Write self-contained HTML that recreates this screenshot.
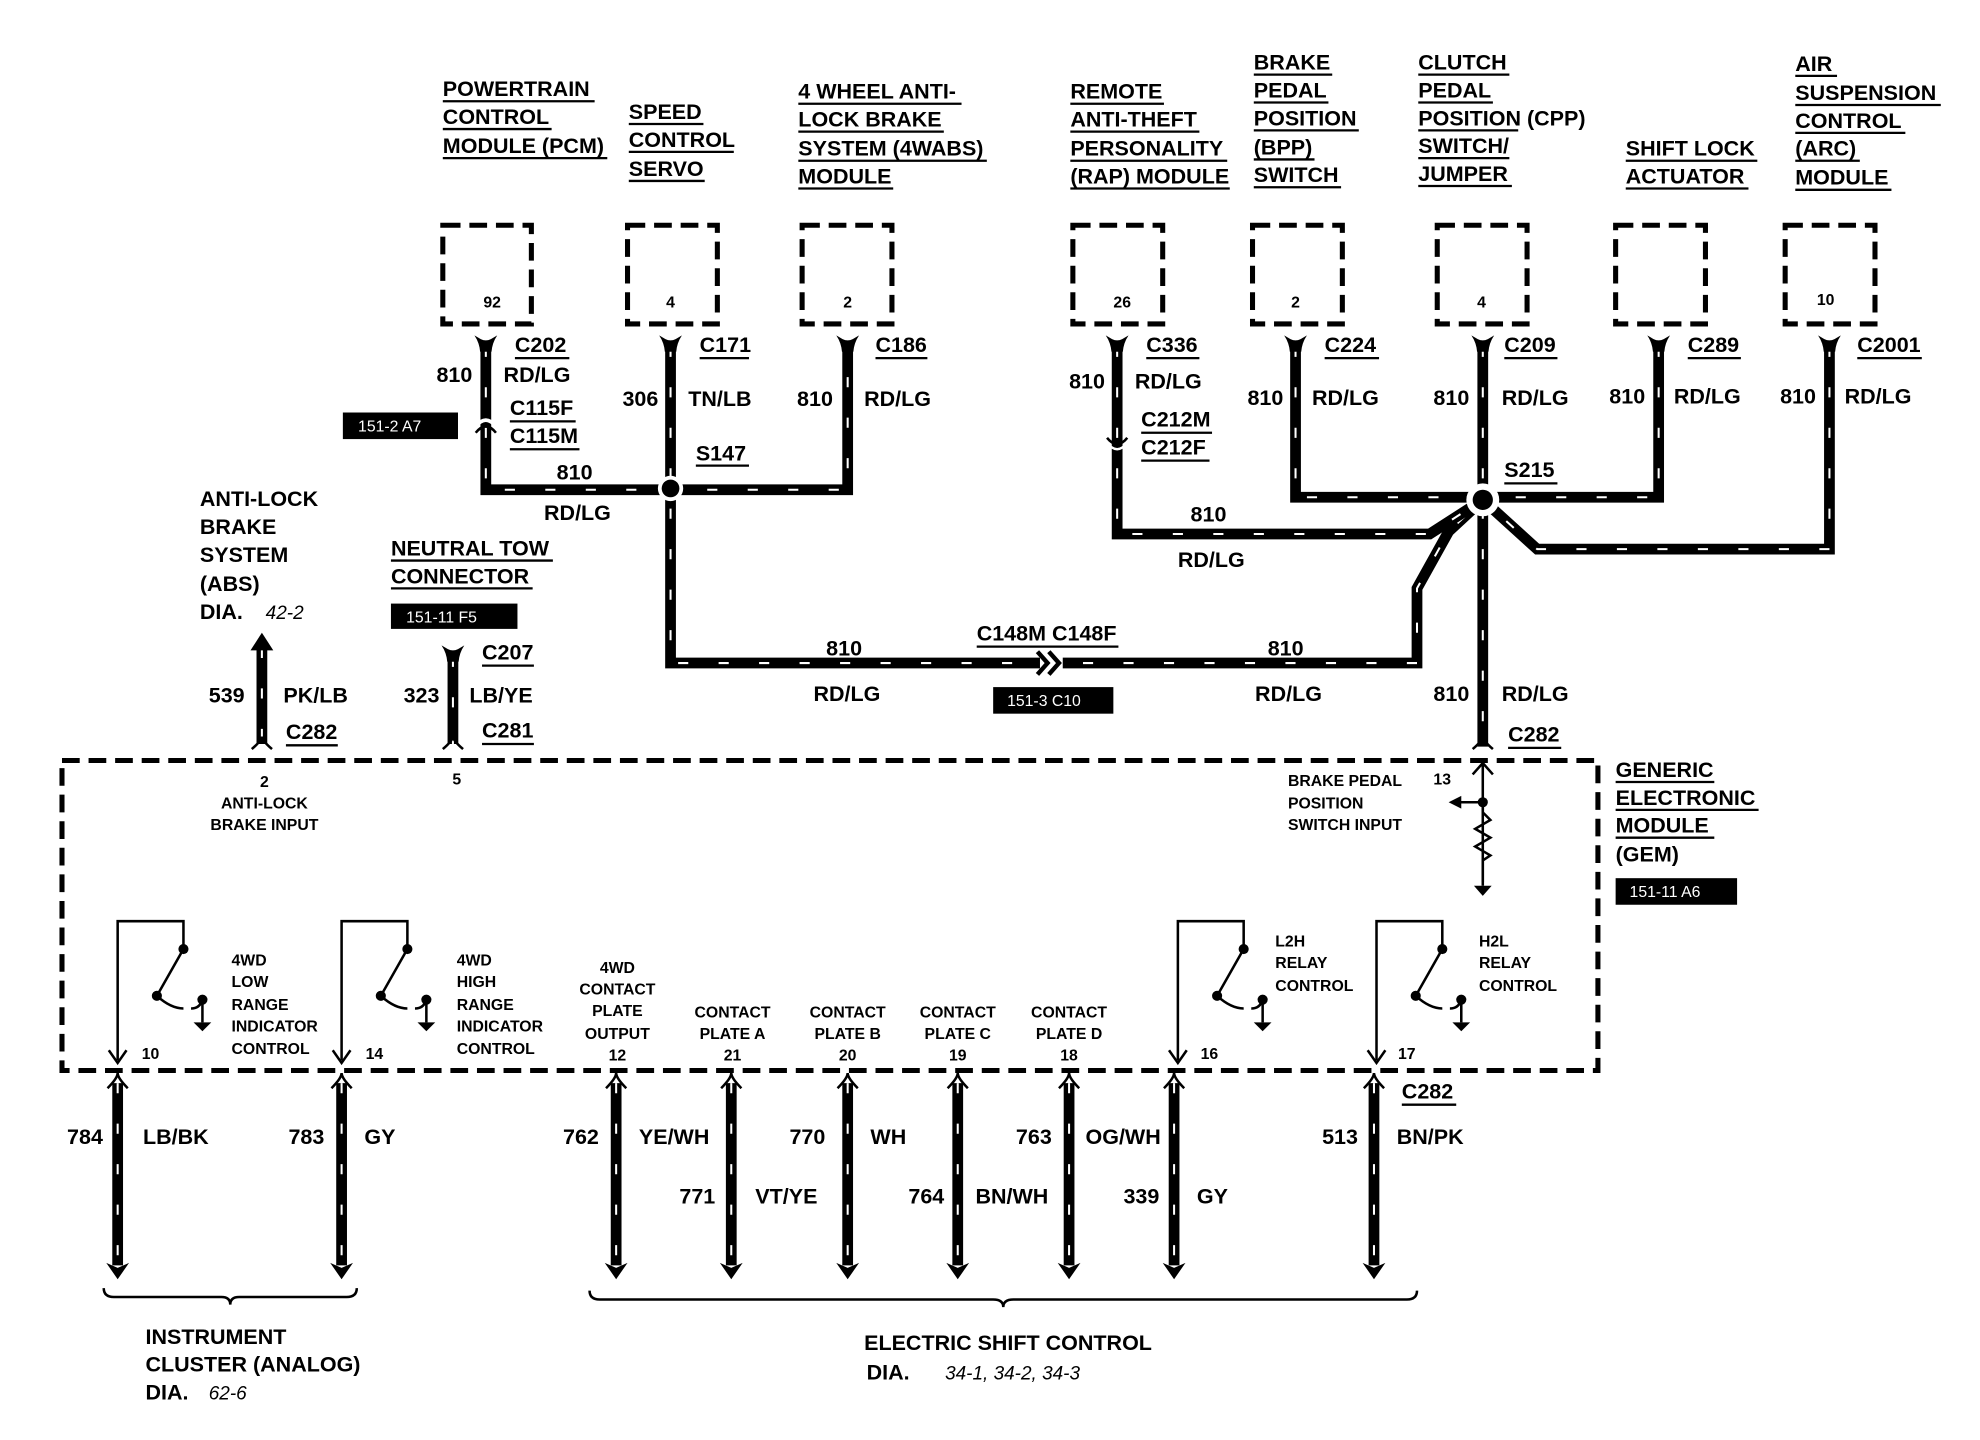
<!DOCTYPE html>
<html><head><meta charset="utf-8"><style>
html,body{margin:0;padding:0;background:#fff}
svg{display:block}
text{font-family:"Liberation Sans",sans-serif;font-weight:bold;fill:#000}
.h{font-size:17px}
.s{font-size:12.5px;font-weight:normal}
.n{font-size:17px}
.w{fill:none;stroke:#000;stroke-width:8.5;stroke-linejoin:miter}
.d{fill:none;stroke:#fff;stroke-width:1.6;stroke-dasharray:8 24}
.box{fill:none;stroke:#000;stroke-width:4;stroke-dasharray:14 7}
.u{stroke:#000;stroke-width:1.8}
.t{stroke:#000;stroke-width:2;fill:none}
</style></head><body>
<svg width="1980" height="1440" viewBox="0 0 1565 1138" preserveAspectRatio="none" xmlns="http://www.w3.org/2000/svg">
<defs>
<path id="w1" d="M384,274 V387 H670 V274"/>
<path id="w2" d="M530,274 V524 H1120 V465 L1145,420 L1172,395"/>
<path id="w3" d="M883,274 V422 H1130 L1172,395"/>
<path id="w4" d="M1024,274 V393 H1172"/>
<path id="w5" d="M1172,274 V590"/>
<path id="w6" d="M1311,274 V393 H1172"/>
<path id="w7" d="M1446,274 V434 H1215 L1172,395"/>
<path id="w8" d="M207,512 V588"/>
<path id="w9" d="M358,519 V588"/>
<g id="sw">
<path class="t" d="M93,838 V728 H145 V750 L124,787"/>
<path d="M86,830 L93,840 L100,830" class="t"/>
<circle cx="145" cy="750" r="4"/><circle cx="124" cy="787" r="4"/><circle cx="160" cy="790" r="4"/>
<path class="t" d="M124,787 Q135,797 145,797 M151,797 Q158,797 160,790 V808"/>
<path d="M153,808 H167 L160,815 Z"/>
</g>
<g id="fork"><path d="M-9,-5 Q-5,1 -4.5,8 H4.5 Q5,1 9,-5 L4,-2 Q0,0 -4,-2 Z"/></g>
<g id="ar"><path d="M-9,-10 L0,3 L9,-10 L0,-6 Z"/></g>
</defs>

<g class="h">
<text x="350" y="76">POWERTRAIN</text><text x="350" y="98">CONTROL</text><text x="350" y="121">MODULE (PCM)</text>
<text x="497" y="94">SPEED</text><text x="497" y="116">CONTROL</text><text x="497" y="139">SERVO</text>
<text x="631" y="78">4 WHEEL ANTI-</text><text x="631" y="100">LOCK BRAKE</text><text x="631" y="123">SYSTEM (4WABS)</text><text x="631" y="145">MODULE</text>
<text x="846" y="78">REMOTE</text><text x="846" y="100">ANTI-THEFT</text><text x="846" y="123">PERSONALITY</text><text x="846" y="145">(RAP) MODULE</text>
<text x="991" y="55">BRAKE</text><text x="991" y="77">PEDAL</text><text x="991" y="99">POSITION</text><text x="991" y="122">(BPP)</text><text x="991" y="144">SWITCH</text>
<text x="1121" y="55">CLUTCH</text><text x="1121" y="77">PEDAL</text><text x="1121" y="99">POSITION (CPP)</text><text x="1121" y="121">SWITCH/</text><text x="1121" y="143">JUMPER</text>
<text x="1285" y="123">SHIFT LOCK</text><text x="1285" y="145">ACTUATOR</text>
<text x="1419" y="56">AIR</text><text x="1419" y="79">SUSPENSION</text><text x="1419" y="101">CONTROL</text><text x="1419" y="123">(ARC)</text><text x="1419" y="146">MODULE</text>
</g>
<g class="u">
<line x1="350" y1="80" x2="470" y2="80"/><line x1="350" y1="102" x2="436" y2="102"/><line x1="350" y1="125" x2="480" y2="125"/>
<line x1="497" y1="98" x2="556" y2="98"/><line x1="497" y1="120" x2="580" y2="120"/><line x1="497" y1="143" x2="557" y2="143"/>
<line x1="631" y1="82" x2="760" y2="82"/><line x1="631" y1="104" x2="746" y2="104"/><line x1="631" y1="127" x2="780" y2="127"/><line x1="631" y1="149" x2="706" y2="149"/>
<line x1="846" y1="82" x2="920" y2="82"/><line x1="846" y1="104" x2="948" y2="104"/><line x1="846" y1="127" x2="970" y2="127"/><line x1="846" y1="149" x2="972" y2="149"/>
<line x1="991" y1="59" x2="1053" y2="59"/><line x1="991" y1="81" x2="1050" y2="81"/><line x1="991" y1="103" x2="1074" y2="103"/><line x1="991" y1="126" x2="1039" y2="126"/><line x1="991" y1="148" x2="1060" y2="148"/>
<line x1="1121" y1="59" x2="1193" y2="59"/><line x1="1121" y1="81" x2="1180" y2="81"/><line x1="1121" y1="103" x2="1200" y2="103"/><line x1="1121" y1="125" x2="1193" y2="125"/><line x1="1121" y1="147" x2="1195" y2="147"/>
<line x1="1285" y1="127" x2="1389" y2="127"/><line x1="1285" y1="149" x2="1382" y2="149"/>
<line x1="1419" y1="60" x2="1452" y2="60"/><line x1="1419" y1="83" x2="1534" y2="83"/><line x1="1419" y1="105" x2="1506" y2="105"/><line x1="1419" y1="127" x2="1470" y2="127"/><line x1="1419" y1="150" x2="1495" y2="150"/>
</g>

<g class="box">
<rect x="350" y="178" width="70" height="78"/><rect x="496" y="178" width="71" height="78"/><rect x="634" y="178" width="71" height="78"/>
<rect x="848" y="178" width="71" height="78"/><rect x="990" y="178" width="71" height="78"/><rect x="1136" y="178" width="71" height="78"/>
<rect x="1277" y="178" width="71" height="78"/><rect x="1411" y="178" width="71" height="78"/>
</g>
<g class="s" text-anchor="middle">
<text x="389" y="243">92</text><text x="530" y="243">4</text><text x="670" y="243">2</text><text x="887" y="243">26</text>
<text x="1024" y="243">2</text><text x="1171" y="243">4</text><text x="1443" y="241">10</text>
</g>

<g>
<use href="#w1" class="w"/><use href="#w1" class="d"/>
<use href="#w2" class="w"/><use href="#w2" class="d"/>
<use href="#w3" class="w"/><use href="#w3" class="d"/>
<use href="#w4" class="w"/><use href="#w4" class="d"/>
<use href="#w5" class="w"/><use href="#w5" class="d"/>
<use href="#w6" class="w"/><use href="#w6" class="d"/>
<use href="#w7" class="w"/><use href="#w7" class="d"/>
<use href="#w8" class="w"/><use href="#w8" class="d"/>
<use href="#w9" class="w"/><use href="#w9" class="d"/>
</g>
<g>
<use href="#fork" x="384" y="270"/><use href="#fork" x="530" y="270"/><use href="#fork" x="670" y="270"/><use href="#fork" x="883" y="270"/>
<use href="#fork" x="1024" y="270"/><use href="#fork" x="1172" y="270"/><use href="#fork" x="1311" y="270"/><use href="#fork" x="1446" y="270"/>
<use href="#fork" x="358" y="515"/>
</g>
<circle cx="530" cy="386" r="10" fill="#fff"/><circle cx="530" cy="386" r="7"/>
<circle cx="1172" cy="395" r="13" fill="#fff"/><circle cx="1172" cy="395" r="8"/>
<path d="M376,342 Q384,332 392,342" class="t" stroke-width="3"/><path d="M376,337 Q384,327 392,337" stroke="#fff" stroke-width="3" fill="none"/>
<path d="M875,346 Q883,356 891,346" class="t" stroke-width="3"/><path d="M875,350 Q883,360 891,350" stroke="#fff" stroke-width="2" fill="none"/>
<rect x="822" y="516" width="18" height="16" fill="#fff"/>
<path d="M820,515 L828,524 L820,533 M829,515 L837,524 L829,533" stroke="#000" stroke-width="3.5" fill="none"/>
<path d="M198,514 L207,500 L216,514 Z"/>
<path d="M199,592 Q207,585 207,582 Q207,585 215,592" class="t" stroke-width="3"/>
<path d="M350,592 Q358,585 358,582 Q358,585 366,592" class="t" stroke-width="3"/>
<path d="M1164,592 Q1172,585 1172,582 Q1172,585 1180,592" class="t" stroke-width="3"/>

<g class="n">
<text x="407" y="278">C202</text><text x="345" y="302">810</text><text x="398" y="302">RD/LG</text>
<text x="403" y="328">C115F</text><text x="403" y="350">C115M</text>
<text x="492" y="321">306</text><text x="544" y="321">TN/LB</text><text x="553" y="278">C171</text><text x="550" y="364">S147</text>
<text x="630" y="321">810</text><text x="683" y="321">RD/LG</text><text x="692" y="278">C186</text>
<text x="440" y="379">810</text><text x="430" y="411">RD/LG</text>
<text x="906" y="278">C336</text><text x="845" y="307">810</text><text x="897" y="307">RD/LG</text><text x="902" y="337">C212M</text><text x="902" y="359">C212F</text>
<text x="941" y="412">810</text><text x="931" y="448">RD/LG</text>
<text x="1047" y="278">C224</text><text x="986" y="320">810</text><text x="1037" y="320">RD/LG</text>
<text x="1189" y="278">C209</text><text x="1133" y="320">810</text><text x="1187" y="320">RD/LG</text><text x="1189" y="377">S215</text>
<text x="1334" y="278">C289</text><text x="1272" y="319">810</text><text x="1323" y="319">RD/LG</text>
<text x="1468" y="278">C2001</text><text x="1407" y="319">810</text><text x="1458" y="319">RD/LG</text>
<text x="772" y="506">C148M C148F</text><text x="653" y="518">810</text><text x="643" y="554">RD/LG</text>
<text x="1002" y="518">810</text><text x="992" y="554">RD/LG</text>
<text x="1133" y="554">810</text><text x="1187" y="554">RD/LG</text><text x="1192" y="586">C282</text>
<text x="165" y="555">539</text><text x="224" y="555">PK/LB</text><text x="226" y="584">C282</text>
<text x="319" y="555">323</text><text x="371" y="555">LB/YE</text><text x="381" y="521">C207</text><text x="381" y="583">C281</text>
</g>
<g class="u">
<line x1="407" y1="283" x2="450" y2="283"/><line x1="403" y1="333" x2="455" y2="333"/><line x1="403" y1="355" x2="458" y2="355"/>
<line x1="553" y1="283" x2="592" y2="283"/><line x1="550" y1="368" x2="592" y2="368"/><line x1="692" y1="283" x2="733" y2="283"/>
<line x1="906" y1="283" x2="948" y2="283"/><line x1="902" y1="342" x2="958" y2="342"/><line x1="902" y1="364" x2="956" y2="364"/>
<line x1="1047" y1="283" x2="1090" y2="283"/><line x1="1189" y1="283" x2="1231" y2="283"/><line x1="1189" y1="382" x2="1231" y2="382"/>
<line x1="1334" y1="283" x2="1376" y2="283"/><line x1="1468" y1="283" x2="1519" y2="283"/>
<line x1="772" y1="511" x2="884" y2="511"/><line x1="1192" y1="591" x2="1234" y2="591"/>
<line x1="226" y1="589" x2="267" y2="589"/><line x1="381" y1="526" x2="422" y2="526"/><line x1="381" y1="588" x2="422" y2="588"/>
</g>
<rect x="271" y="326" width="91" height="21"/><text x="283" y="341" class="s" style="fill:#fff">151-2 A7</text>
<rect x="309" y="477" width="100" height="20"/><text x="321" y="492" class="s" style="fill:#fff">151-11 F5</text>
<rect x="785" y="543" width="95" height="21"/><text x="796" y="558" class="s" style="fill:#fff">151-3 C10</text>
<rect x="1277" y="694" width="96" height="21"/><text x="1288" y="709" class="s" style="fill:#fff">151-11 A6</text>

<g class="h">
<text x="158" y="400">ANTI-LOCK</text><text x="158" y="422">BRAKE</text><text x="158" y="444">SYSTEM</text><text x="158" y="467">(ABS)</text>
<text x="158" y="489">DIA.</text><text x="210" y="489" style="font-style:italic;font-weight:normal;font-size:15px">42-2</text>
<text x="309" y="439">NEUTRAL TOW</text><text x="309" y="461">CONNECTOR</text>
<text x="1277" y="614">GENERIC</text><text x="1277" y="636">ELECTRONIC</text><text x="1277" y="658">MODULE</text><text x="1277" y="681">(GEM)</text>
</g>
<g class="u">
<line x1="309" y1="443" x2="437" y2="443"/><line x1="309" y1="465" x2="421" y2="465"/>
<line x1="1277" y1="618" x2="1355" y2="618"/><line x1="1277" y1="640" x2="1390" y2="640"/><line x1="1277" y1="662" x2="1355" y2="662"/>
</g>

<rect x="49" y="601" width="1214" height="245" class="box" stroke-width="4.5"/>
<g class="s" text-anchor="middle">
<text x="209" y="622">2</text><text x="209" y="639">ANTI-LOCK</text><text x="209" y="656">BRAKE INPUT</text><text x="361" y="620">5</text>
</g>
<g class="s">
<text x="1018" y="621">BRAKE PEDAL</text><text x="1018" y="639">POSITION</text><text x="1018" y="656">SWITCH   INPUT</text><text x="1133" y="620">13</text>
</g>
<path class="t" d="M1172,700 V604 M1164,612 L1172,603 L1180,612 M1172,634 H1147"/>
<path d="M1145,634 L1155,629 L1155,639 Z"/><circle cx="1172" cy="634" r="4"/>
<path class="t" d="M1172,634 V642 L1178,648 L1166,655 L1178,662 L1166,669 L1178,676 L1172,680 V697"/>
<path d="M1165,700 H1179 L1172,708 Z"/>

<use href="#sw"/>
<use href="#sw" x="177"/>
<use href="#sw" x="838"/>
<use href="#sw" x="995"/>
<g class="s">
<text x="183" y="763">4WD</text><text x="183" y="780">LOW</text><text x="183" y="798">RANGE</text><text x="183" y="815">INDICATOR</text><text x="183" y="833">CONTROL</text>
<text x="361" y="763">4WD</text><text x="361" y="780">HIGH</text><text x="361" y="798">RANGE</text><text x="361" y="815">INDICATOR</text><text x="361" y="833">CONTROL</text>
<text x="1008" y="748">L2H</text><text x="1008" y="765">RELAY</text><text x="1008" y="783">CONTROL</text>
<text x="1169" y="748">H2L</text><text x="1169" y="765">RELAY</text><text x="1169" y="783">CONTROL</text>
<text x="112" y="837">10</text><text x="289" y="837">14</text><text x="949" y="837">16</text><text x="1105" y="837">17</text>
</g>
<g class="s" text-anchor="middle">
<text x="488" y="769">4WD</text><text x="488" y="786">CONTACT</text><text x="488" y="803">PLATE</text><text x="488" y="821">OUTPUT</text><text x="488" y="838">12</text>
<text x="579" y="804">CONTACT</text><text x="579" y="821">PLATE A</text><text x="579" y="838">21</text>
<text x="670" y="804">CONTACT</text><text x="670" y="821">PLATE B</text><text x="670" y="838">20</text>
<text x="757" y="804">CONTACT</text><text x="757" y="821">PLATE C</text><text x="757" y="838">19</text>
<text x="845" y="804">CONTACT</text><text x="845" y="821">PLATE D</text><text x="845" y="838">18</text>
</g>

<g>
<path class="w" d="M93,856 V1000 M270,856 V1000 M487,856 V1000 M578,856 V1000 M670,856 V1000 M757,856 V1000 M845,856 V1000 M928,856 V1000 M1086,856 V1000"/>
<path class="d" d="M93,856 V1000 M270,856 V1000 M487,856 V1000 M578,856 V1000 M670,856 V1000 M757,856 V1000 M845,856 V1000 M928,856 V1000 M1086,856 V1000"/>
</g>
<g>
<use href="#ar" x="93" y="1008"/><use href="#ar" x="270" y="1008"/><use href="#ar" x="487" y="1008"/><use href="#ar" x="578" y="1008"/>
<use href="#ar" x="670" y="1008"/><use href="#ar" x="757" y="1008"/><use href="#ar" x="845" y="1008"/><use href="#ar" x="928" y="1008"/><use href="#ar" x="1086" y="1008"/>
</g>
<g>
<path d="M85,860 Q93,852 93,848 Q93,852 101,860" class="t" stroke-width="3"/>
<path d="M262,860 Q270,852 270,848 Q270,852 278,860" class="t" stroke-width="3"/>
<path d="M479,860 Q487,852 487,848 Q487,852 495,860" class="t" stroke-width="3"/>
<path d="M570,860 Q578,852 578,848 Q578,852 586,860" class="t" stroke-width="3"/>
<path d="M662,860 Q670,852 670,848 Q670,852 678,860" class="t" stroke-width="3"/>
<path d="M749,860 Q757,852 757,848 Q757,852 765,860" class="t" stroke-width="3"/>
<path d="M837,860 Q845,852 845,848 Q845,852 853,860" class="t" stroke-width="3"/>
<path d="M920,860 Q928,852 928,848 Q928,852 936,860" class="t" stroke-width="3"/>
<path d="M1078,860 Q1086,852 1086,848 Q1086,852 1094,860" class="t" stroke-width="3"/>
</g>
<g class="n">
<text x="53" y="904">784</text><text x="113" y="904">LB/BK</text>
<text x="228" y="904">783</text><text x="288" y="904">GY</text>
<text x="445" y="904">762</text><text x="505" y="904">YE/WH</text>
<text x="537" y="951">771</text><text x="597" y="951">VT/YE</text>
<text x="624" y="904">770</text><text x="688" y="904">WH</text>
<text x="718" y="951">764</text><text x="771" y="951">BN/WH</text>
<text x="803" y="904">763</text><text x="858" y="904">OG/WH</text>
<text x="888" y="951">339</text><text x="946" y="951">GY</text>
<text x="1045" y="904">513</text><text x="1104" y="904">BN/PK</text>
<text x="1108" y="868">C282</text>
</g>
<line class="u" x1="1108" y1="873" x2="1151" y2="873"/>
<path class="t" stroke-width="3" d="M82,1018 Q82,1025 90,1025 H175 Q182,1025 182,1031 Q182,1025 189,1025 H274 Q282,1025 282,1018"/>
<path class="t" stroke-width="3" d="M466,1020 Q466,1027 474,1027 H785 Q793,1027 793,1033 Q793,1027 801,1027 H1112 Q1120,1027 1120,1020"/>
<g class="h">
<text x="115" y="1062">INSTRUMENT</text><text x="115" y="1084">CLUSTER (ANALOG)</text><text x="115" y="1106">DIA.</text>
<text x="165" y="1106" style="font-style:italic;font-weight:normal;font-size:15px">62-6</text>
<text x="683" y="1067">ELECTRIC SHIFT CONTROL</text><text x="685" y="1090">DIA.</text>
<text x="747" y="1090" style="font-style:italic;font-weight:normal;font-size:15px">34-1, 34-2, 34-3</text>
</g>
</svg>
</body></html>
